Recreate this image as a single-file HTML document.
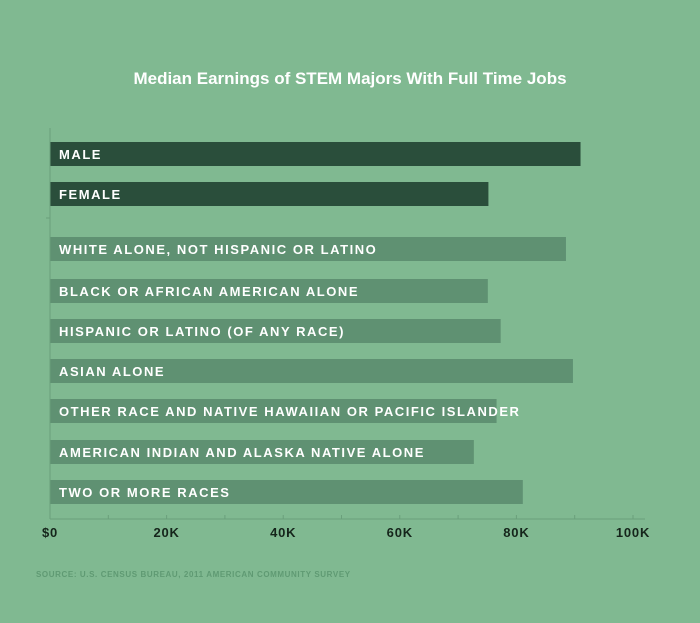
<!DOCTYPE html>
<html><head><meta charset="utf-8"><style>
body{margin:0;background:#80b991;}
svg{display:block;font-family:"Liberation Sans",sans-serif;}
</style></head><body>
<svg width="700" height="623">
<rect width="700" height="623" fill="#80b991"/>
<text x="350" y="84" text-anchor="middle" fill="#fff" font-weight="bold" font-size="17">Median Earnings of STEM Majors With Full Time Jobs</text>
<g id="bars"></g>
<g id="axis"></g>
<text x="36" y="577" fill="#5f9a73" font-weight="bold" font-size="8" letter-spacing="0.6">SOURCE: U.S. CENSUS BUREAU, 2011 AMERICAN COMMUNITY SURVEY</text>
</svg>
<script>
const categories=["MALE","FEMALE","WHITE ALONE, NOT HISPANIC OR LATINO","BLACK OR AFRICAN AMERICAN ALONE","HISPANIC OR LATINO (OF ANY RACE)","ASIAN ALONE","OTHER RACE AND NATIVE HAWAIIAN OR PACIFIC ISLANDER","AMERICAN INDIAN AND ALASKA NATIVE ALONE","TWO OR MORE RACES"];
const values=[91,75.2,88.5,75.1,77.3,89.7,76.6,72.7,81.1];
const groups=["gender","gender","race","race","race","race","race","race","race"];
const tickValues=[0,20,40,60,80,100];
const tickLabels=["$0","20K","40K","60K","80K","100K"];
const NS="http://www.w3.org/2000/svg";
const x0=50,x1=633,xmax=100;
const xs=v=>x0+(x1-x0)*v/xmax;
const rowTops=[142,182,237,279,319,359,399,440,480];
const bh=24;
function mk(t,a){const e=document.createElementNS(NS,t);for(const k in a)e.setAttribute(k,a[k]);return e;}
const bg=document.getElementById('bars');
categories.forEach((c,i)=>{
 const r=mk('rect',{x:x0,y:rowTops[i],width:xs(values[i])-x0,height:bh,fill:groups[i]==="gender"?"#2a4e3b":"#5f9172"});
 
 
 bg.appendChild(r);
 const t=mk('text',{x:x0+9,y:rowTops[i]+17,fill:"#fff","font-weight":"bold","font-size":"13","letter-spacing":"1.55"});
 t.textContent=c;
 
 
 bg.appendChild(t);
});
const ax=document.getElementById('axis');
const l=mk('line',{x1:x0,x2:x1+12,y1:519,y2:519,stroke:"#6a9f7b","stroke-width":1});


ax.appendChild(l);
const vl=mk('line',{x1:x0,x2:x0,y1:128,y2:519,stroke:"#6a9f7b","stroke-width":1});


ax.appendChild(vl);
const sep=mk('line',{x1:x0-4,x2:x0,y1:218,y2:218,stroke:"#6a9f7b"});


ax.appendChild(sep);
for(let v=0;v<=xmax;v+=10){
 const tk=mk('line',{x1:xs(v),x2:xs(v),y1:515,y2:519,stroke:"#6a9f7b"});
 
 
 ax.appendChild(tk);
}
tickValues.forEach((v,i)=>{
 const t=mk('text',{x:xs(v),y:537,"text-anchor":"middle",fill:"#15251b","font-weight":"bold","font-size":"13","letter-spacing":"0.8"});
 t.textContent=tickLabels[i];
 
 
 ax.appendChild(t);
});
</script>
</body></html>
